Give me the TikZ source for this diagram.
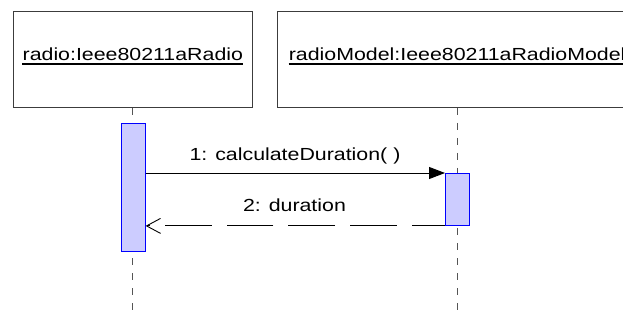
\documentclass[tikz,border=0pt]{standalone}
\usepackage{fontspec}
\setmainfont{Liberation Sans}[FakeStretch=1.22]
\usetikzlibrary{arrows.meta}
\definecolor{actfill}{RGB}{204,204,255}
\definecolor{actdraw}{RGB}{0,0,255}
\definecolor{lifegray}{RGB}{85,85,85}
\definecolor{boxgray}{RGB}{60,60,60}

\begin{document}
\begin{tikzpicture}[x=1pt, y=-1pt,
  font=\fontsize{17.5}{21}\selectfont,
  objbox/.style={draw=boxgray, line width=1pt, fill=white, inner sep=0pt,
    anchor=north west, minimum height=96pt},
  objlabel/.style={anchor=base, inner sep=0pt},
  lifeline/.style={draw=lifegray, line width=1pt, dash pattern=on 7pt off 8pt},
  actbox/.style={draw=actdraw, line width=0.9pt, fill=actfill, inner sep=0pt,
    anchor=north west, minimum width=24pt},
  msglabel/.style={anchor=base, inner sep=0pt},
  callmsg/.style={draw=black, line width=0.9pt,
    -{Triangle[length=16pt, width=12pt]}},
  replymsg/.style={draw=black, line width=0.9pt,
    dash pattern=on 46.7pt off 15pt, dash phase=13.4pt,
    -{Straight Barb[length=14pt, width=15pt]}}
]
\useasboundingbox (0,0) rectangle (623,320);
\clip (0,0) rectangle (623,320);
\fill[white] (0,0) rectangle (623,320);

% object boxes
\node[objbox, minimum width=239.3pt] (radio) at (12.7,11) {};
\node[objbox, minimum width=360pt] (model) at (276.7,11) {};

% underlined object names
\node[objlabel] (radiolbl) at (radio.center |- 0,61) {radio:Ieee80211aRadio};
\draw[line width=1.7pt] ([yshift=-3pt]radiolbl.base west) -- ([yshift=-3pt]radiolbl.base east);
\node[objlabel] (modellbl) at (model.center |- 0,61) {radioModel:Ieee80211aRadioModel};
\draw[line width=1.7pt] ([yshift=-3pt]modellbl.base west) -- ([yshift=-3pt]modellbl.base east);

% lifelines
\coordinate (end1) at (radio.south |- 0,315);
\coordinate (end2) at (model.south |- 0,310);
\draw[lifeline] (radio.south) -- (end1);
\draw[lifeline] (model.south) -- (end2);

% activation bars
\node[actbox, minimum height=128pt] (act1) at (120.7,123) {};
\node[actbox, minimum height=52pt] (act2) at (445,173) {};

% messages
\draw[callmsg] (act1.east |- act2.north) -- (act2.north west);
\node[msglabel] (m1) at (295,161) {1: calculateDuration( )};
\draw[replymsg] (act2.south west) -- (act1.east |- act2.south);
\node[msglabel] (m2) at (294.5,211.5) {2: duration};
\end{tikzpicture}
\end{document}
